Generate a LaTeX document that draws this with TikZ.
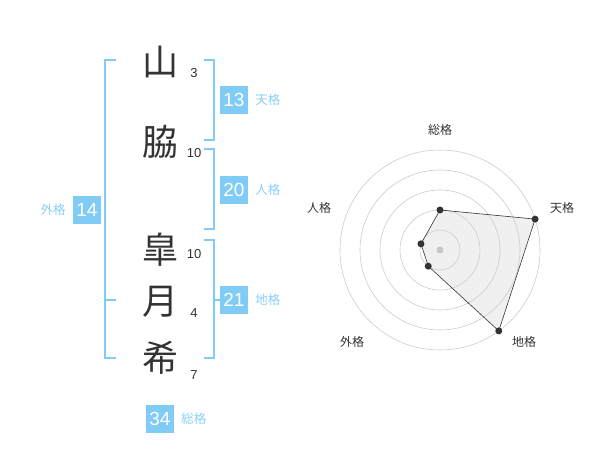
\documentclass[tikz,border=0pt]{standalone}
\usepackage{fontspec}
\setmainfont{Liberation Sans}
\newfontfamily\jpfont{Noto Sans CJK JP}
\usetikzlibrary{positioning}
\definecolor{kakublue}{HTML}{80CCF7}
\definecolor{kakutext}{HTML}{8ACFF5}
\definecolor{inkgray}{HTML}{333333}

\begin{document}
\begin{tikzpicture}[x=1pt,y=-1pt,
 kanji/.style={font=\jpfont\fontsize{36}{36}\selectfont,text=inkgray,inner sep=0pt},
 stroke/.style={font=\fontsize{13}{13}\selectfont,text=inkgray,inner sep=0pt},
 valbox/.style={fill=kakublue,text=white,minimum width=28pt,minimum height=28pt,inner sep=0pt,font=\fontsize{19}{19}\selectfont},
 kaku/.style={font=\jpfont\fontsize{12.5}{12.5}\selectfont,text=kakutext,inner sep=0pt},
 brk/.style={draw=kakublue,line width=1.6pt},
 ring/.style={draw=black!20,line width=0.6pt},
 axlab/.style={font=\jpfont\fontsize{12}{12}\selectfont,text=inkgray,inner sep=0pt}]
\useasboundingbox (0,0) rectangle (600,470);
% name
\node[kanji] (c1) at (160,62) {山};
\node[kanji] (c2) at (160,142) {脇};
\node[kanji] (c3) at (160,250) {皐};
\node[kanji] (c4) at (160,302) {月};
\node[kanji] (c5) at (160,358) {希};
\node[stroke] (s1) at (194,73) {3};
\node[stroke] (s2) at (194,153) {10};
\node[stroke] (s3) at (194,254) {10};
\node[stroke] (s4) at (194,313) {4};
\node[stroke] (s5) at (194,375) {7};
% brackets
\coordinate (lt) at (116,60); \coordinate (lb) at (116,358);
\coordinate (t1) at (204,60); \coordinate (t2) at (204,140);
\coordinate (j1) at (204,149); \coordinate (j2) at (204,229);
\coordinate (g1) at (204,240); \coordinate (g2) at (204,358);
\draw[brk] (lt) -- ++(-11,0) |- (lb);
\draw[brk] (105,300) -- ++(11,0);
\draw[brk] (t1) -- ++(10,0) |- (t2);
\draw[brk] (j1) -- ++(10,0) |- (j2);
\draw[brk] (g1) -- ++(10,0) |- (g2);
% values
\node[valbox] (ten) at (234,100) {13};
\node[kaku,right=7pt of ten] {天格};
\node[valbox] (jin) at (234,190) {20};
\node[kaku,right=7pt of jin] {人格};
\node[valbox] (chi) at (234,300) {21};
\node[kaku,right=7pt of chi] {地格};
\draw[brk] (214,300) -- (chi.west);
\node[valbox] (gai) at (87,210) {14};
\node[kaku,left=7pt of gai] {外格};
\node[valbox] (sou) at (160,419) {34};
\node[kaku,right=7pt of sou] {総格};
% radar
\coordinate (o) at (440,250);
\coordinate (p1) at ([shift={(-90:40)}]o);
\coordinate (p2) at ([shift={(-18:100)}]o);
\coordinate (p3) at ([shift={(54:100)}]o);
\coordinate (p4) at ([shift={(126:20)}]o);
\coordinate (p5) at ([shift={(-162:20)}]o);
\fill[black!6] (p1) -- (p2) -- (p3) -- (p4) -- (p5) -- cycle;
\foreach \r in {20,40,60,80,100}
  \draw[ring] (o) circle[radius=\r];
\fill[black!22] (o) circle[radius=3.5];
\draw[inkgray,line width=0.6pt] (p1) -- (p2) -- (p3) -- (p4) -- (p5) -- cycle;
\foreach \p in {p1,p2,p3,p4,p5}
  \fill[inkgray] (\p) circle[radius=3.5];
\node[axlab] (l1) at (440,130) {総格};
\node[axlab] (l2) at (562,208) {天格};
\node[axlab] (l3) at (319,208) {人格};
\node[axlab] (l4) at (352,342) {外格};
\node[axlab] (l5) at (524,342) {地格};
\end{tikzpicture}
\end{document}
